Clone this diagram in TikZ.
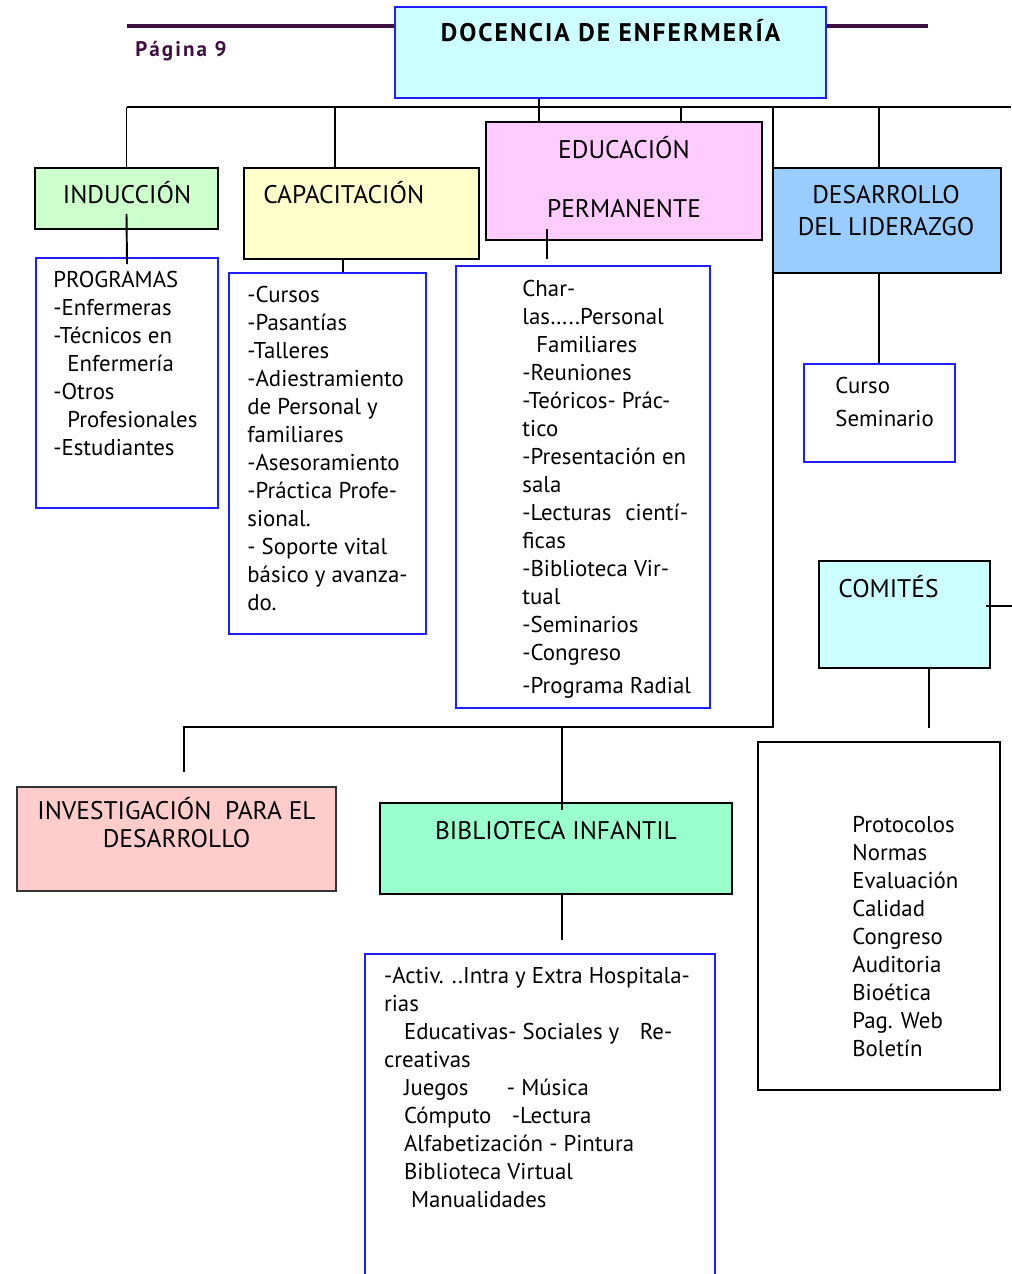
\documentclass[tikz,border=0pt]{standalone}
\usepackage{fontspec}
\setmainfont{PT Sans}
\usetikzlibrary{positioning}
\definecolor{titlecyan}{RGB}{204,255,255}
\definecolor{borderblue}{RGB}{30,30,255}
\definecolor{inducgreen}{RGB}{204,255,204}
\definecolor{capacyellow}{RGB}{255,255,204}
\definecolor{edupink}{RGB}{255,204,255}
\definecolor{liderblue}{RGB}{153,204,255}
\definecolor{investred}{RGB}{255,204,204}
\definecolor{bibliogreen}{RGB}{153,255,204}
\definecolor{pageplum}{RGB}{62,14,62}

\begin{document}
\begin{tikzpicture}[x=0.02cm, y=-0.02cm,
    every node/.style={font=\fontsize{13}{15.94}\selectfont, inner sep=0pt},
    headbox/.style={rectangle, draw=black, line width=1.1pt},
    headtext/.style={font=\fontsize{14.5}{15.94}\selectfont},
    listbox/.style={rectangle, draw=borderblue, line width=1.1pt, fill=white},
    listtext/.style={align=left},
    link/.style={line width=1.1pt, draw=black},
    pageline/.style={line width=2.8pt, draw=pageplum}
]
\useasboundingbox (0,0) rectangle (1011,1274);

% Header rule and page number
\draw[pageline] (127,26) -- (928,26);
\node[anchor=base west, text=pageplum, font=\fontsize{12}{14}\selectfont\bfseries\addfontfeatures{LetterSpace=10}] (page) at (135,57) {Página 9};

% Top level
\node[headbox, draw=borderblue, fill=titlecyan, minimum width=8.62cm, minimum height=1.82cm] (title) at (610.5,52.5) {};
\node[anchor=base, font=\fontsize{14.5}{16}\selectfont\bfseries\addfontfeatures{LetterSpace=8}] (titletxt) at (610.5,42) {DOCENCIA DE ENFERMERÍA};

% Second level boxes
\node[headbox, fill=inducgreen, minimum width=3.66cm, minimum height=1.22cm] (induc) at (126.5,198.5) {};
\node[headtext, anchor=base] (inductxt) at (127,203) {INDUCCIÓN};

\node[headbox, fill=capacyellow, minimum width=4.7cm, minimum height=1.82cm] (capac) at (361.5,213.5) {};
\node[headtext, anchor=base west] (capactitle) at (263,203) {CAPACITACIÓN};

\node[headbox, fill=edupink, minimum width=5.52cm, minimum height=2.36cm] (edu) at (624,181) {};
\node[headtext, anchor=base] (edutitle) at (624,158) {EDUCACIÓN};
\node[headtext, anchor=base] (edutitle2) at (624,217) {PERMANENTE};

\node[headbox, fill=liderblue, minimum width=4.56cm, minimum height=2.1cm] (lider) at (887,220.5) {};
\node[headtext, align=center, anchor=north] (lidertxt) at (886,185) {DESARROLLO\\[0.08cm]DEL LIDERAZGO};

% Lists under the second level
\node[listbox, minimum width=3.64cm, minimum height=5cm] (progbox) at (127,383) {};
\node[listtext, below right=0.27cm and 0.36cm of progbox.north west] (progtxt) {PROGRAMAS\\
-Enfermeras\\
-Técnicos en\\
\hspace*{0.28cm}Enfermería\\
-Otros\\
\hspace*{0.28cm}Profesionales\\
-Estudiantes};

\node[listbox, minimum width=3.94cm, minimum height=7.22cm] (capacbox) at (327.5,453.5) {};
\node[listtext, below right=0.27cm and 0.38cm of capacbox.north west] (capactxt) {-Cursos\\
-Pasantías\\
-Talleres\\
-Adiestramiento\\
de Personal y\\
familiares\\
-Asesoramiento\\
-Práctica Profe-\\
sional.\\
- Soporte vital\\
básico y avanza-\\
do.};

\node[listbox, minimum width=5.08cm, minimum height=8.84cm] (edubox) at (583,487) {};
\node[listtext, below right=0.29cm and 1.34cm of edubox.north west] (edutxt) {Char-\\
las…..Personal\\
\hspace*{0.28cm}Familiares\\
-Reuniones\\
-Teóricos- Prác-\\
tico\\
-Presentación en\\
sala\\
\makebox[2.06cm][l]{-Lecturas}cientí-\\
ficas\\
-Biblioteca Vir-\\
tual\\
-Seminarios\\
-Congreso\\[0.1cm]
-Programa Radial};

\node[listbox, minimum width=3.02cm, minimum height=1.96cm] (cursobox) at (879.5,413) {};
\node[listtext, below right=0.27cm and 0.64cm of cursobox.north west] (cursotxt) {Curso\\[0.1cm]Seminario};

% Committees
\node[headbox, fill=titlecyan, minimum width=3.42cm, minimum height=2.14cm] (comites) at (904.5,614.5) {};
\node[headtext, anchor=base west] (comitestxt) at (838,597) {COMITÉS};

\node[headbox, fill=white, minimum width=4.84cm, minimum height=6.96cm] (protobox) at (879,916) {};
\node[listtext, below right=1.49cm and 1.9cm of protobox.north west] (prototxt) {Protocolos\\
Normas\\
Evaluación\\
Calidad\\
Congreso\\
Auditoria\\
Bioética\\
Pag. Web\\
Boletín};

% Third level
\node[headbox, draw=black!80, fill=investred, minimum width=6.38cm, minimum height=2.08cm] (investig) at (176.5,839) {};
\node[headtext, align=center, anchor=north] (investtxt) at (176.5,797) {INVESTIGACIÓN\ \ PARA EL\\DESARROLLO};

\node[headbox, fill=bibliogreen, minimum width=7.04cm, minimum height=1.82cm] (biblio) at (556,848.5) {};
\node[headtext, anchor=base] (bibliotxt) at (556,839) {BIBLIOTECA INFANTIL};

\node[minimum width=7cm, minimum height=6.4cm] (bibbox) at (540,1114) {};
\draw[line width=1.1pt, draw=borderblue] (bibbox.south west) -- (bibbox.north west) -- (bibbox.north east) -- (bibbox.south east);
\node[listtext, below right=0.27cm and 0.38cm of bibbox.north west] (bibtxt) {-Activ. ..Intra y Extra Hospitala-\\
rias\\
\hspace*{0.4cm}\makebox[4.72cm][l]{Educativas- Sociales y}Re-\\
creativas\\
\hspace*{0.4cm}\makebox[2.06cm][l]{Juegos}- Música\\
\hspace*{0.4cm}\makebox[2.16cm][l]{Cómputo}-Lectura\\
\hspace*{0.4cm}Alfabetización - Pintura\\
\hspace*{0.4cm}Biblioteca Virtual\\
\hspace*{0.54cm}Manualidades};

% Connectors
\coordinate (busL) at (126.5,107);
\coordinate (busR) at (1011,107);
\coordinate (busA) at (539,107);
\coordinate (busB) at (681,107);
\coordinate (busC) at (335,107);
\coordinate (busD) at (879,107);
\coordinate (busE) at (773,107);
\coordinate (jointR) at (773,727);
\coordinate (jointM) at (562,727);
\coordinate (jointL) at (184,727);

\draw[link] (busL) -- (busR);
\draw[link] (title.south -| busA) -- (edu.north -| busA);
\draw[link] (busB) -- (edu.north -| busB);
\draw[link] (busL) -- (induc.north);
\draw[link] (busC) -- (capac.north -| busC);
\draw[link] (busD) -- (lider.north -| busD);
\draw[link] (busE) -- (jointR) -- (jointL) -- ++(0,45);
\draw[link] (jointM) -- ++(0,83);

\draw[link] ([yshift=0.32cm]induc.south) -- ([yshift=-0.14cm]progbox.north);
\draw[link] ([xshift=-0.37cm]capac.south) -- ([xshift=-0.37cm]capac.south |- capacbox.north);
\draw[link] ([xshift=-1.54cm, yshift=0.24cm]edu.south) -- ++(0,30);
\draw[link] (busD |- lider.south) -- (busD |- cursobox.north);
\draw[link] ([xshift=-0.1cm, yshift=0.17cm]comites.east) -- ++(26,0);
\draw[link] ([xshift=0.49cm]comites.south) -- ++(0,59);
\draw[link] (biblio.south -| jointM) -- ++(0,45);

\end{tikzpicture}
\end{document}
